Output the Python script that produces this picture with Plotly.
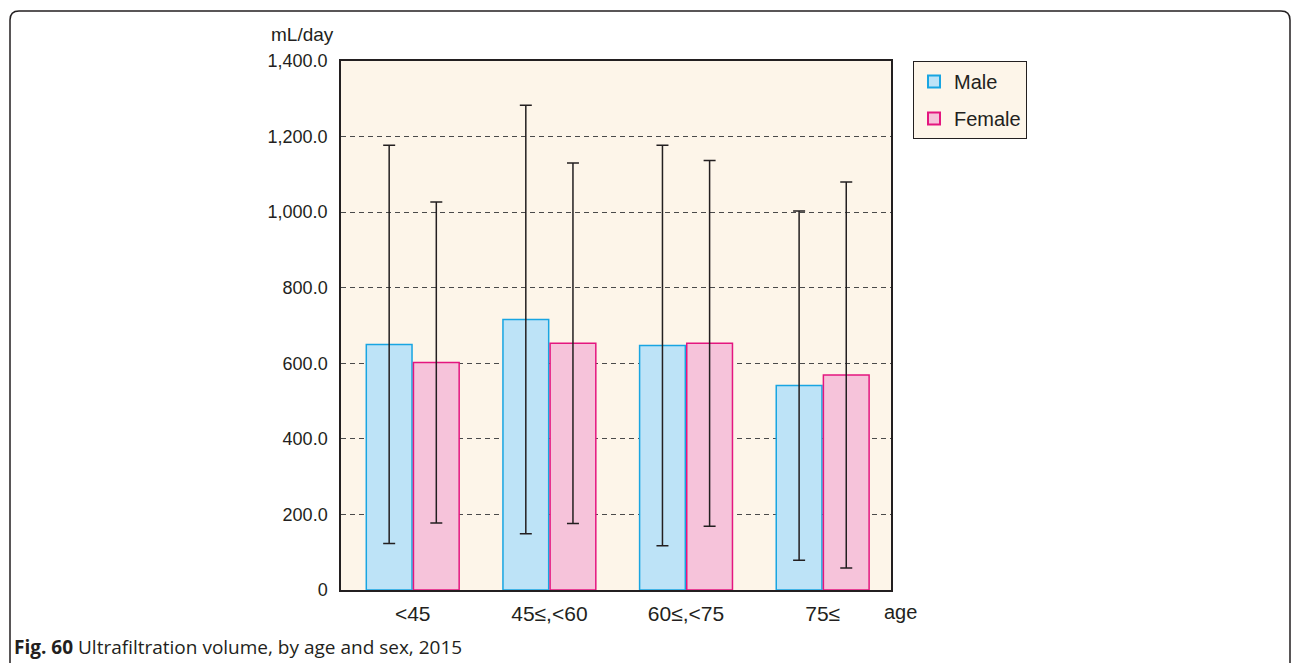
import plotly.graph_objects as go

# Ultrafiltration volume (mL/day), mean ± SD, by age group and sex
age_groups = ["<45", "45≤,<60", "60≤,<75", "75≤"]
male_mean = [650, 716, 647, 541]
male_sd = [527, 567, 530, 462]
female_mean = [602, 653, 653, 569]
female_sd = [425, 477, 484, 511]

y_ticks = [0, 200, 400, 600, 800, 1000, 1200, 1400]
y_tick_text = ["0", "200.0", "400.0", "600.0", "800.0", "1,000.0", "1,200.0", "1,400.0"]

W, H = 1292, 663
ML, MR, MT, MB = 341, 401, 61, 73
PW, PH = W - ML - MR, H - MT - MB


def px(x):
    return (x - ML) / PW


def py(y):
    return (H - MB - y) / PH


FONT = "Liberation Sans, Arial, sans-serif"
BG = "#fdf5e9"
INK = "#231f20"

fig = go.Figure()
fig.add_trace(go.Bar(
    name="Male", x=age_groups, y=male_mean, legendgroup="m",
    marker=dict(color="#bde3f7", line=dict(color="#18a5e2", width=1.5)),
    error_y=dict(type="data", array=male_sd, visible=True,
                 color=INK, thickness=1.5, width=6),
))
fig.add_trace(go.Bar(
    name="Female", x=age_groups, y=female_mean, legendgroup="f",
    marker=dict(color="#f6c3da", line=dict(color="#e4167f", width=1.5)),
    error_y=dict(type="data", array=female_sd, visible=True,
                 color=INK, thickness=1.5, width=6),
))

# rounded frame around the figure
r = 9
frame = (f"M {px(10)},{py(H + 5)} L {px(10)},{py(11 + r)} "
         f"Q {px(10)},{py(11)} {px(10 + r)},{py(11)} "
         f"L {px(1290 - r)},{py(11)} "
         f"Q {px(1290)},{py(11)} {px(1290)},{py(11 + r)} "
         f"L {px(1290)},{py(H + 5)}")

fig.update_layout(
    width=W, height=H,
    margin=dict(l=ML, r=MR, t=MT, b=MB),
    paper_bgcolor="white",
    plot_bgcolor=BG,
    barmode="group",
    bargap=0.31,
    bargroupgap=0.03,
    font=dict(family=FONT, size=18, color=INK),
    showlegend=True,
    legend=dict(
        x=px(913), y=1, xanchor="left", yanchor="top",
        bgcolor=BG, bordercolor=INK, borderwidth=1,
        font=dict(family=FONT, size=20, color=INK),
        tracegroupgap=8, itemsizing="constant",
    ),
    xaxis=dict(
        showline=True, linecolor=INK, linewidth=1.5, mirror=True,
        ticks="", showgrid=False,
        tickfont=dict(size=21),
        ticklabelstandoff=4,
        range=[-0.525, 3.5],
    ),
    yaxis=dict(
        range=[0, 1400],
        tickvals=y_ticks, ticktext=y_tick_text,
        showline=True, linecolor=INK, linewidth=1.5, mirror=True,
        ticks="", showgrid=True, gridcolor="#4a4a4a", gridwidth=1,
        griddash="5px,4px", zeroline=False,
        tickfont=dict(size=18),
        ticklabelstandoff=8,
    ),
    shapes=[dict(type="path", path=frame, xref="paper", yref="paper",
                 line=dict(color=INK, width=1.5), layer="above")],
    annotations=[
        dict(text="mL/day", x=px(336), y=py(35), xref="paper", yref="paper",
             xanchor="right", yanchor="middle", showarrow=False,
             font=dict(family=FONT, size=19, color=INK)),
        dict(text="age", x=px(900), y=py(612), xref="paper", yref="paper",
             xanchor="center", yanchor="middle", showarrow=False,
             font=dict(family=FONT, size=20, color=INK)),
        dict(text="<b>Fig. 60</b> Ultrafiltration volume, by age and sex, 2015",
             x=px(12), y=py(647), xref="paper", yref="paper",
             xanchor="left", yanchor="middle", showarrow=False,
             font=dict(family="Open Sans, sans-serif", size=19, color=INK)),
    ],
)

fig.write_html("out.html")
